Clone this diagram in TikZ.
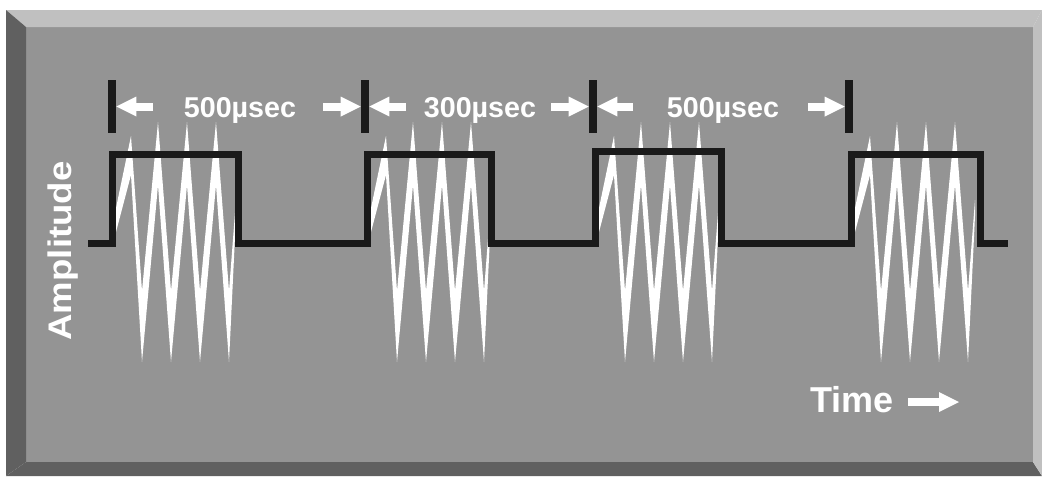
\documentclass[tikz,border=0pt]{standalone}
\usepackage{fontspec}
\setmainfont{Liberation Sans}
\usepackage{graphicx}
\usetikzlibrary{arrows.meta}

\begin{document}
\begin{tikzpicture}[
    x=0.75pt, y=-0.75pt,
    font=\bfseries,
    pulse/.style={draw=pulseblack, line width=5.25pt, line join=miter, line cap=butt},
    bar/.style={fill=pulseblack, inner sep=0pt, minimum width=6pt, minimum height=39.75pt},
    dimarrow/.style={-{Triangle[length=15pt, width=15pt, line width=0pt]}, draw=white, line width=6pt},
    dimlabel/.style={text=white, inner sep=0pt, anchor=base, font=\fontsize{21.5}{24}\selectfont\bfseries},
    axislabel/.style={text=white, inner sep=0pt, font=\fontsize{27}{30}\selectfont\bfseries},
    burst/.pic={
        \fill[white] (4,208) -- (19,136) -- (30,291) -- (46,122) -- (59,291) -- (75,122) -- (88,291)
            -- (104,122) -- (117,291) -- (124,200) -- (124,216) -- (117,362) -- (104,185) -- (88,362)
            -- (75,185) -- (59,362) -- (46,185) -- (30,362) -- (19,175) -- (4,232) -- cycle;
    }
]
\definecolor{facegray}{RGB}{148,148,148}
\definecolor{bevellight}{RGB}{192,192,192}
\definecolor{beveldark}{RGB}{96,96,96}
\definecolor{pulseblack}{RGB}{26,26,26}

\useasboundingbox (0,0) rectangle (1042,476);

% panel with bevelled edges
\fill[facegray] (26,27) rectangle (1033,462);
\fill[bevellight] (6,10) -- (1042,10) -- (1033,27) -- (26,27) -- cycle;
\fill[beveldark] (6,10) -- (26,27) -- (26,462) -- (6,476) -- cycle;
\fill[beveldark] (6,476) -- (26,462) -- (1033,462) -- (1042,476) -- cycle;
\fill[bevellight] (1042,10) -- (1042,476) -- (1033,462) -- (1033,27) -- cycle;

% carrier bursts
\pic at (112,0) {burst};
\pic at (367,0) {burst};
\pic at (595,0) {burst};
\pic at (851,0) {burst};

% pulse envelope
\draw[pulse] (88,243) -- (112,243) -- (112,154) -- (238,154) -- (238,243) -- (367,243) -- (367,154)
    -- (491,154) -- (491,243) -- (595,243) -- (595,151) -- (721,151) -- (721,243) -- (851,243)
    -- (851,154) -- (980,154) -- (980,243) -- (1008,243);

% timing marks
\node[bar] (b1) at (112,106.5) {};
\node[bar] (b2) at (365,106.5) {};
\node[bar] (b3) at (593,106.5) {};
\node[bar] (b4) at (849,106.5) {};

\node[dimlabel] (d1) at (240,117) {500µsec};
\node[dimlabel] (d2) at (480,117) {300µsec};
\node[dimlabel] (d3) at (723,117) {500µsec};

\coordinate (t1l) at (153,106.5);
\coordinate (t1r) at (323,106.5);
\coordinate (t2l) at (406,106.5);
\coordinate (t2r) at (551,106.5);
\coordinate (t3l) at (633,106.5);
\coordinate (t3r) at (808,106.5);
\draw[dimarrow] (t1l) -- (b1.east);
\draw[dimarrow] (t1r) -- (b2.west);
\draw[dimarrow] (t2l) -- (b2.east);
\draw[dimarrow] (t2r) -- (b3.west);
\draw[dimarrow] (t3l) -- (b3.east);
\draw[dimarrow] (t3r) -- (b4.west);

% axis labels
\node[axislabel, rotate=90, font=\fontsize{24.5}{28}\selectfont\bfseries] (amp) at (63,251) {\scalebox{1.12}[1]{Amplitude}};
\node[axislabel, anchor=base west] (tm) at (810,412) {Time};
\coordinate (tmtip) at (959,402);
\draw[dimarrow, shorten <=10.5pt] (tm.east |- tmtip) -- (tmtip);
\end{tikzpicture}
\end{document}
